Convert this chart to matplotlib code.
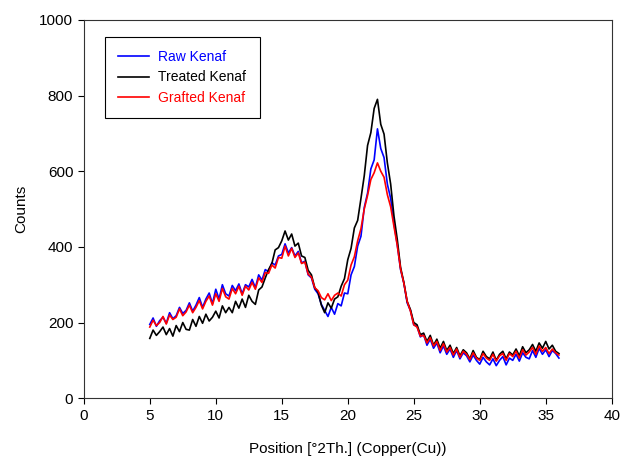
import numpy as np
import matplotlib
matplotlib.use("Agg")
import matplotlib.pyplot as plt

plt.rcParams['font.family'] = ['Liberation Sans', 'DejaVu Sans']

# scan positions (deg 2theta), 0.25 step from 5 to 36
position = np.arange(5, 36.001, 0.25)

# counts, one row per degree (x.00, x.25, x.50, x.75)
raw_kenaf = [
    195, 212, 190, 205,   # 5
    214, 198, 226, 210,   # 6
    218, 240, 224, 232,   # 7
    252, 230, 246, 266,   # 8
    240, 262, 278, 250,   # 9
    288, 262, 300, 276,   # 10
    270, 298, 284, 302,   # 11
    276, 300, 294, 314,   # 12
    292, 326, 312, 340,   # 13
    334, 358, 352, 376,   # 14
    380, 408, 384, 398,   # 15
    376, 388, 358, 362,   # 16
    326, 318, 288, 276,   # 17
    248, 232, 216, 240,   # 18
    222, 250, 244, 278,   # 19
    276, 326, 348, 402,   # 20
    428, 504, 542, 606,   # 21
    630, 712, 660, 636,   # 22
    566, 528, 462, 406,   # 23
    340, 304, 252, 232,   # 24
    194, 190, 162, 168,   # 25
    140, 156, 132, 146,   # 26
    120, 138, 116, 130,   # 27
    108, 126, 104, 120,   # 28
    112, 96, 114, 100,    # 29
    90, 108, 96, 88,      # 30
    104, 86, 100, 110,    # 31
    88, 106, 100, 116,    # 32
    98, 120, 108, 104,    # 33
    126, 108, 132, 116,   # 34
    128, 110, 126, 118,   # 35
    106,                  # 36
]

treated_kenaf = [
    158, 180, 166, 176,
    188, 168, 184, 164,
    192, 176, 200, 182,
    180, 208, 190, 216,
    198, 222, 204, 214,
    230, 212, 244, 226,
    240, 226, 256, 238,
    262, 240, 272, 256,
    248, 286, 294, 318,
    340, 356, 392, 398,
    416, 442, 418, 434,
    402, 410, 376, 372,
    338, 326, 292, 280,
    246, 226, 252, 238,
    262, 268, 296, 316,
    366, 396, 450, 470,
    528, 588, 668, 702,
    766, 790, 724, 698,
    622, 566, 482, 420,
    346, 306, 256, 234,
    200, 194, 168, 172,
    150, 166, 140, 156,
    132, 150, 126, 140,
    118, 134, 112, 128,
    120, 104, 126, 108,
    102, 124, 110, 104,
    122, 100, 116, 124,
    104, 122, 114, 130,
    112, 136, 120, 128,
    142, 124, 146, 132,
    150, 130, 140, 124,
    118,
]

grafted_kenaf = [
    188, 206, 192, 200,
    216, 196, 220, 208,
    214, 236, 218, 228,
    246, 226, 240, 258,
    236, 256, 270, 246,
    276, 256, 290, 268,
    262, 290, 276, 296,
    272, 296, 286, 306,
    288, 318, 306, 332,
    330, 352, 344, 372,
    370, 402, 376, 396,
    372, 384, 356, 360,
    328, 320, 292, 284,
    266, 260, 276, 258,
    272, 278, 270, 300,
    312, 352, 374, 416,
    448, 500, 536, 578,
    596, 622, 600, 584,
    538, 506, 454, 404,
    342, 304, 256, 230,
    194, 188, 164, 166,
    146, 160, 138, 150,
    126, 144, 122, 134,
    114, 130, 108, 124,
    116, 102, 120, 106,
    100, 118, 106, 100,
    116, 98, 112, 118,
    100, 118, 110, 124,
    106, 128, 114, 122,
    134, 116, 138, 124,
    134, 118, 130, 120,
    114,
]

series = [
    ("Raw Kenaf", raw_kenaf, "#0000ff"),
    ("Treated Kenaf", treated_kenaf, "black"),
    ("Grafted Kenaf", grafted_kenaf, "#ff0000"),
]

fig = plt.figure(figsize=(6.3, 4.63), dpi=100)
ax = fig.add_axes([0.133, 0.140, 0.838, 0.817])

for name, counts, col in series:
    ax.plot(position, counts, color=col, lw=1.2, label=name)

ax.set_xlim(0, 40)
ax.set_ylim(0, 1000)
ax.set_xticks(range(0, 41, 5))
ax.set_yticks(range(0, 1001, 200))
ax.tick_params(direction="out", length=4, labelsize=11, width=0.8)
for s in ax.spines.values():
    s.set_linewidth(0.8)
    s.set_color("#333333")

ax.set_xlabel("Position [°2Th.] (Copper(Cu))", fontsize=11, labelpad=14)
ax.set_ylabel("Counts", fontsize=11, labelpad=8)

leg = ax.legend(loc="upper left", bbox_to_anchor=(0.04, 0.955), fontsize=10,
                fancybox=False, edgecolor="black", framealpha=1,
                handlelength=2.2, handletextpad=0.7, borderpad=0.95,
                labelspacing=0.45, borderaxespad=0)
leg.get_frame().set_linewidth(0.8)
for txt, (_, _, col) in zip(leg.get_texts(), series):
    txt.set_color(col)

fig.savefig("out.png", dpi=100)
